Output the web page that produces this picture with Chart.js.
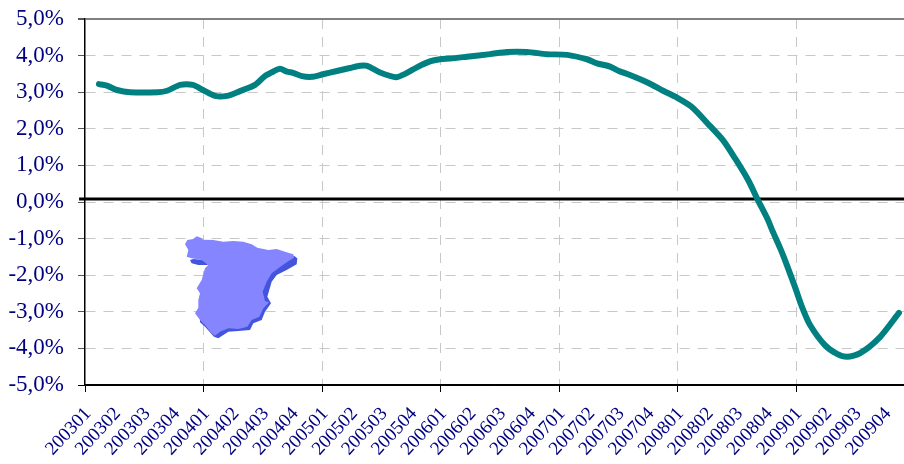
<!DOCTYPE html>
<html><head><meta charset="utf-8">
<style>html,body{margin:0;padding:0;background:#fff;overflow:hidden}#w{position:relative;width:904px;height:464px}</style>
<script src="https://cdn.jsdelivr.net/npm/chart.js@4"></script></head>
<body><div id="w"><canvas id="c" width="904" height="464"></canvas></div>
<script>
const tickLabels=['200301','200302','200303','200304','200401','200402','200403','200404','200501','200502','200503','200504','200601','200602','200603','200604','200701','200702','200703','200704','200801','200802','200803','200804','200901','200902','200903','200904'];
// position along the time axis, in quarters since 200301
const periods=[0.47,0.74,1.08,1.52,2.46,2.77,3.21,3.64,3.98,4.39,4.79,5.23,5.74,6.07,6.34,6.58,6.82,7.02,7.32,7.66,8.03,8.50,8.94,9.28,9.52,9.96,10.50,10.80,11.20,11.64,11.98,12.32,12.89,13.67,14.24,14.92,15.59,16.27,16.94,17.28,17.72,18.02,18.39,19.00,19.51,19.98,20.49,21.09,21.53,21.94,22.38,22.71,23.05,23.19,23.46,23.62,23.96,24.20,24.47,24.97,25.38,25.72,26.16,26.83,27.47];
const rate=[3.22,3.18,3.06,3.00,3.00,3.04,3.20,3.20,3.06,2.90,2.90,3.03,3.20,3.44,3.56,3.64,3.56,3.53,3.44,3.42,3.49,3.58,3.66,3.72,3.72,3.54,3.41,3.50,3.68,3.84,3.90,3.92,3.97,4.04,4.10,4.10,4.04,4.02,3.90,3.79,3.70,3.58,3.47,3.26,3.04,2.85,2.59,2.08,1.69,1.19,0.60,0.05,-0.49,-0.77,-1.26,-1.58,-2.32,-2.87,-3.36,-3.91,-4.15,-4.23,-4.13,-3.69,-3.03];
const baselinePeriods=[-0.2,27.64];
const baselineValue=[0.08,0.08];
const yTicks=[-5,-4,-3,-2,-1,0,1,2,3,4,5];
const axisMax=27.64;
// decorative map outline, relative to its own box (3x px)
const mapMain=[[45,58],[52,45],[70,42],[80,34],[92,38],[100,44],[130,45],[160,50],[190,48],[220,50],[245,58],[262,68],[295,75],[320,72],[350,82],[370,88],[372,98],[350,112],[325,130],[305,145],[290,170],[278,200],[285,228],[297,232],[280,250],[268,275],[245,285],[232,305],[205,312],[175,310],[150,320],[135,332],[122,322],[105,300],[90,285],[75,265],[85,248],[85,225],[90,205],[80,190],[95,165],[105,130],[115,120],[95,105],[65,100],[50,95],[55,75]];
const mapShadow=[[372,92],[382,100],[380,118],[350,135],[320,150],[305,170],[292,215],[303,235],[285,260],[275,285],[250,295],[240,315],[205,318],[175,320],[145,340],[132,335],[105,305],[90,292],[90,280],[200,200]];
const mapIsle=[[60,105],[70,102],[100,105],[115,120],[85,120],[65,115]];
const mapPlugin={id:'map',beforeDatasetsDraw(ch){const g=ch.ctx;const draw=(p,col)=>{g.beginPath();p.forEach(([x,y],i)=>{const X=170+x/3,Y=225+y/3;i?g.lineTo(X,Y):g.moveTo(X,Y)});g.closePath();g.fillStyle=col;g.fill()};g.save();draw(mapShadow,'#4455DD');draw(mapIsle,'#4455DD');draw(mapMain,'#8585FF');g.restore()}};
new Chart(document.getElementById('c'),{type:'scatter',plugins:[mapPlugin],
data:{datasets:[
{data:periods.map((x,i)=>({x,y:rate[i]})),showLine:true,borderColor:'#008080',borderWidth:6,pointRadius:0,tension:0.25,borderCapStyle:'round',borderJoinStyle:'round'},
{data:baselinePeriods.map((x,i)=>({x,y:baselineValue[i]})),showLine:true,borderColor:'#000',borderWidth:3,pointRadius:0,clip:false}
]},
options:{responsive:false,animation:false,
layout:{padding:{left:0,right:0,top:19,bottom:0}},
plugins:{legend:{display:false},tooltip:{enabled:false}},
scales:{
x:{type:'linear',min:0,max:axisMax,afterBuildTicks(a){a.ticks=tickLabels.map((_,i)=>({value:i}))},
 afterFit(a){a.height=79;a.paddingLeft=0;a.paddingRight=0},
 border:{color:'#000',width:1.5,dash:[10,8]},
 grid:{drawOnChartArea:true,color:c=>c.tick&&c.tick.value%4===0&&c.tick.value>0?'#c8c8c8':'rgba(0,0,0,0)',lineWidth:1,tickColor:c=>c.tick&&c.tick.value%4===0?'#000':'rgba(0,0,0,0)',tickLength:7},
 ticks:{autoSkip:false,minRotation:47,maxRotation:47,padding:11,labelOffset:3,color:'#000080',font:{family:'"Liberation Serif"',size:19},callback:v=>tickLabels[v]}},
y:{min:-5,max:5,afterBuildTicks(a){a.ticks=yTicks.map(value=>({value}))},
 border:{color:'#000',width:1.5,dash:c=>(c.tick&&Math.abs(c.tick.value)===5)?[]:[10,8]},
 grid:{color:c=>(c.tick.value===5?'#808080':(c.tick.value===-5?'#000':'#c8c8c8')),lineWidth:c=>(c.tick.value===5?2:1),tickColor:c=>(c.tick.value===-5?'#000':'#555'),tickLength:7},
 ticks:{padding:14,color:'#000080',font:{family:'"Liberation Serif"',size:23},callback:v=>v.toFixed(1).replace('.',',')+'%'},
 afterFit(a){a.width=85;a.paddingTop=0;a.paddingBottom=0}}
}},
});
</script></body></html>
